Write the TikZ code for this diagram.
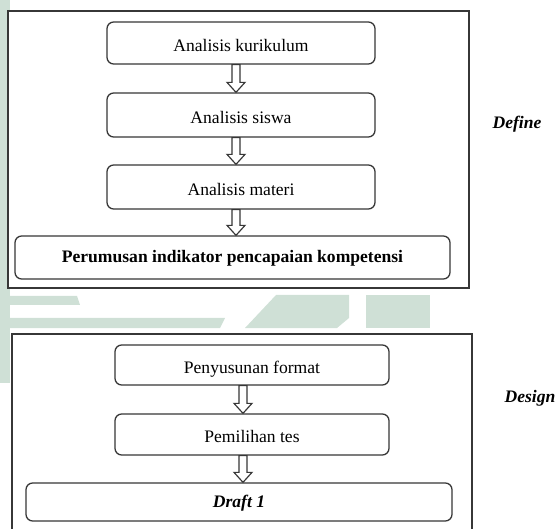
\documentclass[tikz,border=0pt]{standalone}
\usepackage{fontspec}
\setmainfont{Liberation Serif}
\usepackage{tikz}
\usepackage{xcolor}
\usetikzlibrary{calc}

\definecolor{wmgreen}{RGB}{207,224,214}
\definecolor{boxline}{RGB}{55,55,55}

% hollow block arrow between two stacked boxes
\newcommand{\blockarrow}[3]{%
\draw[arrowline] ($(#1.south)+(#3-0.12,0)$) -- ($(#1.south |- #2.north)+(#3-0.12,0.3)$)
  -- ($(#1.south |- #2.north)+(#3-0.27,0.3)$) -- ($(#1.south |- #2.north)+(#3,0)$)
  -- ($(#1.south |- #2.north)+(#3+0.27,0.3)$) -- ($(#1.south |- #2.north)+(#3+0.12,0.3)$)
  -- ($(#1.south)+(#3+0.12,0)$) -- cycle;}

\begin{document}
\begin{tikzpicture}[x=1cm,y=1cm,
  stepbox/.style={draw=boxline,line width=1.1pt,rounded corners=0.2cm,inner sep=0pt,
    text height=17pt,text depth=3pt,font=\fontsize{15}{18}\selectfont},
  framebox/.style={draw=boxline,line width=1.1pt},
  arrowline/.style={draw=boxline,line width=1pt,fill=white,line join=miter},
  phase/.style={font=\fontsize{15}{18}\selectfont\bfseries\itshape}]
\useasboundingbox (0,0) rectangle (16.77,15.84);
% watermark
\fill[wmgreen] (0,15.84) rectangle (0.3,4.35);
\fill[wmgreen] (0,6.96) -- (2.31,6.96) -- (2.4,6.69) -- (0,6.69) -- cycle;
\fill[wmgreen] (0,6.3) -- (6.75,6.3) -- (6.6,6.0) -- (0,6.0) -- cycle;
\fill[wmgreen] (7.35,6.0) -- (8.28,6.99) -- (10.47,6.99) -- (10.47,6.3) -- (10.11,6.0) -- cycle;
\fill[wmgreen] (10.98,6.0) rectangle (12.9,6.99);
% Define
\fill[white] (0.24,7.2) rectangle (14.07,15.51);
\draw[framebox] (0.24,7.2) rectangle (14.07,15.51);
\node[stepbox,minimum width=8.04cm,minimum height=1.26cm] (kurikulum) at (7.23,14.55) {Analisis kurikulum};
\node[stepbox,minimum width=8.04cm,minimum height=1.32cm] (siswa) at (7.23,12.39) {Analisis siswa};
\node[stepbox,minimum width=8.04cm,minimum height=1.32cm] (materi) at (7.23,10.23) {Analisis materi};
\node[stepbox,minimum width=13.05cm,minimum height=1.29cm,text height=11pt,font=\fontsize{15}{18}\selectfont\bfseries] (indikator) at (6.975,8.115) {Perumusan indikator pencapaian kompetensi};
\blockarrow{kurikulum}{siswa}{-0.15}
\blockarrow{siswa}{materi}{-0.15}
\blockarrow{materi}{indikator}{-0.15}
\node[phase] (define) at (15.51,12.12) {Define};
% Design
\fill[white] (0.36,0) rectangle (14.16,5.82);
\draw[framebox] (0.36,-0.1) |- (14.16,5.82) -- (14.16,-0.1);
\node[stepbox,minimum width=8.22cm,minimum height=1.2cm] (format) at (7.56,4.89) {Penyusunan format};
\node[stepbox,minimum width=8.22cm,minimum height=1.23cm] (tes) at (7.56,2.805) {Pemilihan tes};
\node[stepbox,minimum width=12.78cm,minimum height=1.14cm,text height=13pt,font=\fontsize{15}{18}\selectfont\bfseries\itshape] (draft) at (7.17,0.78) {Draft 1};
\blockarrow{format}{tes}{-0.27}
\blockarrow{tes}{draft}{-0.27}
\node[phase] (design) at (15.9,3.9) {Design};
\end{tikzpicture}
\end{document}
